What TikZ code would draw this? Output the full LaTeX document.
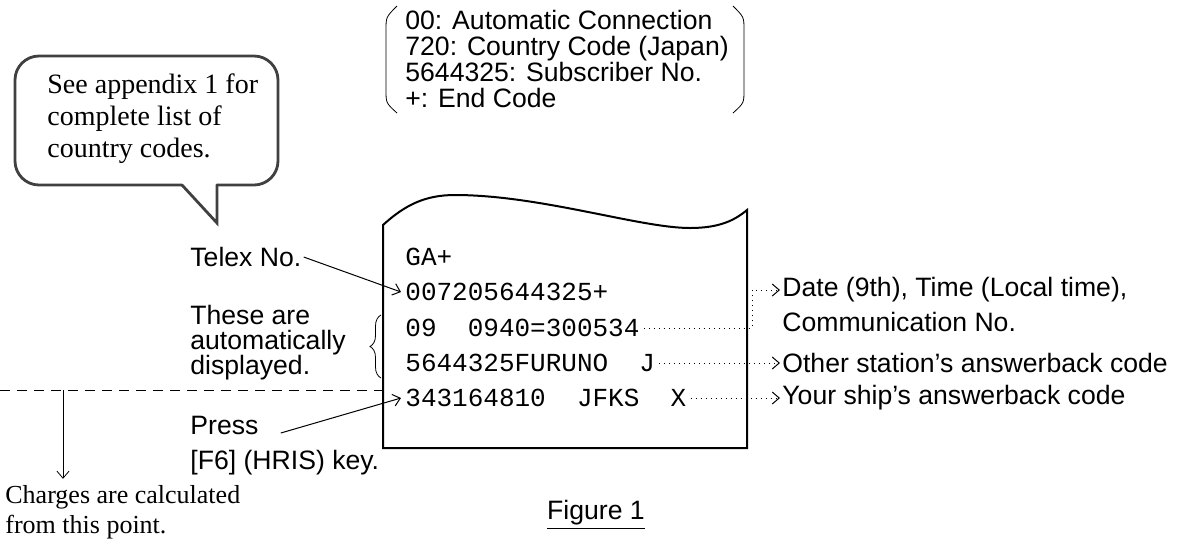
\documentclass[tikz,border=0pt]{standalone}
\usepackage{fontspec}
\setmainfont{Liberation Serif}
\setsansfont{Liberation Sans}
\setmonofont{Liberation Mono}
\usetikzlibrary{arrows.meta, decorations.pathreplacing}

\tikzset{
  lbl/.style={font=\sffamily\fontsize{13.3}{12.5}\selectfont, inner sep=1pt, anchor=west, align=left},
  scr/.style={font=\ttfamily\fontsize{13}{13}\selectfont, inner sep=2pt, anchor=west},
  note/.style={font=\rmfamily\fontsize{14}{16}\selectfont, inner sep=0pt, anchor=west, align=left},
  bubble/.style={line width=1.4pt, black!75, line cap=round},
  pointer/.style={-{Straight Barb[length=3.5pt,width=6pt]}, line width=0.5pt},
  leader/.style={pointer, dotted},
}

\begin{document}
\begin{tikzpicture}[x=0.5pt, y=-0.5pt]
    \useasboundingbox (0,0) rectangle (1179,554);
    % speech bubble
    \draw[bubble, rounded corners=12pt] (182,185) -- (15,185) -- (15,56) -- (278,56) -- (278,185) -- (217,185);
    \draw[bubble] (182,185) -- (217,223) -- (217,185);
    \node[note] (tip) at (47,119) {See appendix 1 for\\complete list of\\country codes.};
    % dialled number
    \draw (397,6) .. controls (386,17) .. (386,30) -- (386,90) .. controls (386,103) .. (397,113);
    \draw (733,6) .. controls (744,17) .. (744,30) -- (744,90) .. controls (744,103) .. (733,113);
    \node[lbl, font=\sffamily\fontsize{13.3}{13}\selectfont] (codes) at (403,59) {00: Automatic Connection\\720: Country Code (Japan)\\5644325: Subscriber No.\\+: End Code};
    % printout
    \draw[line width=1pt] (383,448) -- (383,225) .. controls (405,205) and (425,195) .. (455,195)
        .. controls (540,195) and (640,228) .. (690,228) .. controls (720,228) and (735,220) .. (747,210)
        -- (747,448) -- cycle;
    \node[scr] (r1) at (401,257) {GA+};
    \node[scr] (r2) at (401,292) {007205644325+};
    \node[scr] (r3) at (401,328) {09\ \ 0940=300534};
    \node[scr] (r4) at (401,363) {5644325FURUNO\ \ J};
    \node[scr] (r5) at (401,398) {343164810\ \ JFKS\ \ X};
    % left side
    \node[lbl] (telex) at (188,257) {Telex No.};
    \draw[pointer] (telex.east) -- (r2.west);
    \node[lbl] (auto) at (188,343) {These are\\automatically\\displayed.};
    \draw[decorate, decoration={brace, amplitude=5.5pt}] (381,378) -- (381,315);
    \draw[dashed, dash pattern=on 5pt off 3.5pt] (0,390) -- (383,390);
    \coordinate (cut) at (63,390);
    \node[note, font=\rmfamily\fontsize{13}{15}\selectfont] (charges) at (5,512) {Charges are calculated\\from this point.};
    \draw[pointer, line width=0.4pt, shorten >=3pt] (cut) -- (cut |- charges.north);
    \node[lbl] (press) at (188,425) {Press};
    \node[lbl] (key) at (188,463) {[F6] (HRIS) key.};
    \draw[pointer] ([xshift=10pt,yshift=-4pt]press.east) -- (r5.west);
    % right side
    \coordinate (edge) at (752,0);
    \node[lbl] (date) at (780,290) {Date (9th), Time (Local time),};
    \node[lbl] (comm) at (780,322) {Communication No.};
    \node[lbl] (other) at (780,363) {Other station’s answerback code};
    \node[lbl] (own) at (780,398) {Your ship’s answerback code};
    \draw[leader] (r3.east) -| (edge |- date.west) -- (date.west);
    \draw[leader] (r4.east) -- (other.west);
    \draw[leader] (r5.east) -- (own.west);
    \node[lbl, anchor=center] (fig) at (596,515) {\underline{Figure 1}};
\end{tikzpicture}
\end{document}
